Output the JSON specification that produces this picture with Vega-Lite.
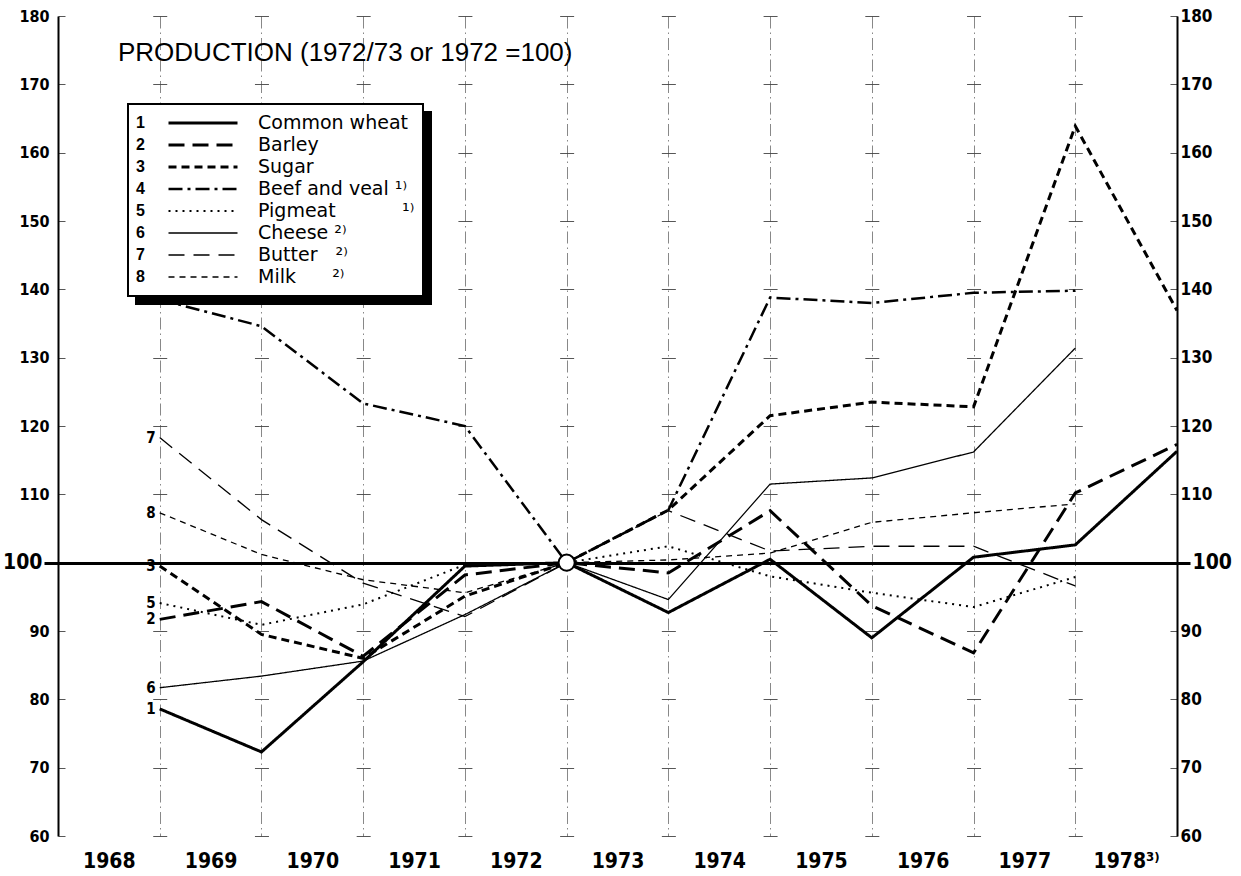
{
  "$schema": "https://vega.github.io/schema/vega-lite/v6.json",
  "autosize": {"type": "none"},
  "padding": {"left": 58, "top": 16, "right": 64, "bottom": 40},
  "width": 1119,
  "height": 820,
  "background": "white",
  "config": {
    "view": {"stroke": null},
    "legend": {"strokeWidth": 2}
  },
  "title": {
    "text": "PRODUCTION (1972/73 or 1972 =100)",
    "anchor": "start",
    "frame": "group",
    "orient": "top",
    "offset": 0,
    "dx": 60,
    "dy": 80,
    "baseline": "alphabetic",
    "font": "Liberation Sans",
    "fontSize": 26,
    "fontWeight": "normal",
    "color": "black"
  },
  "data": {
    "values": [
      {"series": "Common wheat", "num": "1", "year": 1968.5, "value": 78.6},
      {"series": "Common wheat", "num": "1", "year": 1969.5, "value": 72.3},
      {"series": "Common wheat", "num": "1", "year": 1970.5, "value": 85.5},
      {"series": "Common wheat", "num": "1", "year": 1971.5, "value": 99.5},
      {"series": "Common wheat", "num": "1", "year": 1972.5, "value": 100},
      {"series": "Common wheat", "num": "1", "year": 1973.5, "value": 92.7},
      {"series": "Common wheat", "num": "1", "year": 1974.5, "value": 100.5},
      {"series": "Common wheat", "num": "1", "year": 1975.5, "value": 89.0},
      {"series": "Common wheat", "num": "1", "year": 1976.5, "value": 100.8},
      {"series": "Common wheat", "num": "1", "year": 1977.5, "value": 102.6},
      {"series": "Common wheat", "num": "1", "year": 1978.5, "value": 116.3},
      {"series": "Barley", "num": "2", "year": 1968.5, "value": 91.7},
      {"series": "Barley", "num": "2", "year": 1969.5, "value": 94.3},
      {"series": "Barley", "num": "2", "year": 1970.5, "value": 86.3},
      {"series": "Barley", "num": "2", "year": 1971.5, "value": 98.2},
      {"series": "Barley", "num": "2", "year": 1972.5, "value": 100},
      {"series": "Barley", "num": "2", "year": 1973.5, "value": 98.5},
      {"series": "Barley", "num": "2", "year": 1974.5, "value": 107.6},
      {"series": "Barley", "num": "2", "year": 1975.5, "value": 93.7},
      {"series": "Barley", "num": "2", "year": 1976.5, "value": 86.8},
      {"series": "Barley", "num": "2", "year": 1977.5, "value": 110.2},
      {"series": "Barley", "num": "2", "year": 1978.5, "value": 117.3},
      {"series": "Sugar", "num": "3", "year": 1968.5, "value": 99.5},
      {"series": "Sugar", "num": "3", "year": 1969.5, "value": 89.5},
      {"series": "Sugar", "num": "3", "year": 1970.5, "value": 86.0},
      {"series": "Sugar", "num": "3", "year": 1971.5, "value": 95.1},
      {"series": "Sugar", "num": "3", "year": 1972.5, "value": 100},
      {"series": "Sugar", "num": "3", "year": 1973.5, "value": 107.7},
      {"series": "Sugar", "num": "3", "year": 1974.5, "value": 121.5},
      {"series": "Sugar", "num": "3", "year": 1975.5, "value": 123.5},
      {"series": "Sugar", "num": "3", "year": 1976.5, "value": 122.8},
      {"series": "Sugar", "num": "3", "year": 1977.5, "value": 163.9},
      {"series": "Sugar", "num": "3", "year": 1978.5, "value": 136.9},
      {"series": "Beef and veal", "num": "4", "year": 1968.5, "value": 138.5},
      {"series": "Beef and veal", "num": "4", "year": 1969.5, "value": 134.6},
      {"series": "Beef and veal", "num": "4", "year": 1970.5, "value": 123.3},
      {"series": "Beef and veal", "num": "4", "year": 1971.5, "value": 120.0},
      {"series": "Beef and veal", "num": "4", "year": 1972.5, "value": 100},
      {"series": "Beef and veal", "num": "4", "year": 1973.5, "value": 107.7},
      {"series": "Beef and veal", "num": "4", "year": 1974.5, "value": 138.8},
      {"series": "Beef and veal", "num": "4", "year": 1975.5, "value": 138.0},
      {"series": "Beef and veal", "num": "4", "year": 1976.5, "value": 139.5},
      {"series": "Beef and veal", "num": "4", "year": 1977.5, "value": 139.8},
      {"series": "Pigmeat", "num": "5", "year": 1968.5, "value": 94.1},
      {"series": "Pigmeat", "num": "5", "year": 1969.5, "value": 90.9},
      {"series": "Pigmeat", "num": "5", "year": 1970.5, "value": 93.9},
      {"series": "Pigmeat", "num": "5", "year": 1971.5, "value": 99.7},
      {"series": "Pigmeat", "num": "5", "year": 1972.5, "value": 100},
      {"series": "Pigmeat", "num": "5", "year": 1973.5, "value": 102.4},
      {"series": "Pigmeat", "num": "5", "year": 1974.5, "value": 98.0},
      {"series": "Pigmeat", "num": "5", "year": 1975.5, "value": 95.6},
      {"series": "Pigmeat", "num": "5", "year": 1976.5, "value": 93.5},
      {"series": "Pigmeat", "num": "5", "year": 1977.5, "value": 97.9},
      {"series": "Cheese", "num": "6", "year": 1968.5, "value": 81.7},
      {"series": "Cheese", "num": "6", "year": 1969.5, "value": 83.4},
      {"series": "Cheese", "num": "6", "year": 1970.5, "value": 85.6},
      {"series": "Cheese", "num": "6", "year": 1971.5, "value": 92.4},
      {"series": "Cheese", "num": "6", "year": 1972.5, "value": 100},
      {"series": "Cheese", "num": "6", "year": 1973.5, "value": 94.6},
      {"series": "Cheese", "num": "6", "year": 1974.5, "value": 111.5},
      {"series": "Cheese", "num": "6", "year": 1975.5, "value": 112.4},
      {"series": "Cheese", "num": "6", "year": 1976.5, "value": 116.2},
      {"series": "Cheese", "num": "6", "year": 1977.5, "value": 131.4},
      {"series": "Butter", "num": "7", "year": 1968.5, "value": 118.3},
      {"series": "Butter", "num": "7", "year": 1969.5, "value": 106.3},
      {"series": "Butter", "num": "7", "year": 1970.5, "value": 97.0},
      {"series": "Butter", "num": "7", "year": 1971.5, "value": 92.1},
      {"series": "Butter", "num": "7", "year": 1972.5, "value": 100},
      {"series": "Butter", "num": "7", "year": 1973.5, "value": 107.6},
      {"series": "Butter", "num": "7", "year": 1974.5, "value": 101.7},
      {"series": "Butter", "num": "7", "year": 1975.5, "value": 102.4},
      {"series": "Butter", "num": "7", "year": 1976.5, "value": 102.4},
      {"series": "Butter", "num": "7", "year": 1977.5, "value": 96.6},
      {"series": "Milk", "num": "8", "year": 1968.5, "value": 107.3},
      {"series": "Milk", "num": "8", "year": 1969.5, "value": 101.2},
      {"series": "Milk", "num": "8", "year": 1970.5, "value": 97.5},
      {"series": "Milk", "num": "8", "year": 1971.5, "value": 95.6},
      {"series": "Milk", "num": "8", "year": 1972.5, "value": 100},
      {"series": "Milk", "num": "8", "year": 1973.5, "value": 100.4},
      {"series": "Milk", "num": "8", "year": 1974.5, "value": 101.4},
      {"series": "Milk", "num": "8", "year": 1975.5, "value": 105.9},
      {"series": "Milk", "num": "8", "year": 1976.5, "value": 107.3},
      {"series": "Milk", "num": "8", "year": 1977.5, "value": 108.6}
    ]
  },
  "encoding": {
    "x": {
      "field": "year",
      "type": "quantitative",
      "scale": {"domain": [1967.5, 1978.5], "nice": false, "zero": false},
      "axis": {
        "title": null,
        "values": [1968.5, 1969.5, 1970.5, 1971.5, 1972.5, 1973.5, 1974.5, 1975.5, 1976.5, 1977.5, 1978.5],
        "labelExpr": "datum.value > 1978 ? '1978³⁾' : '' + floor(datum.value)",
        "labelOffset": -50.86,
        "labelFlush": false,
        "labelOverlap": false,
        "labelPadding": 14,
        "labelFont": "Liberation Sans Narrow, DejaVu Sans Condensed, sans-serif",
        "labelFontWeight": "bold",
        "labelFontSize": 21,
        "labelColor": "black",
        "ticks": false,
        "domain": false,
        "grid": true,
        "gridColor": "#555555",
        "gridWidth": 0.7,
        "gridDash": [12, 4, 1.5, 4]
      }
    }
  },
  "layer": [
    {
      "mark": {"type": "line", "color": "black", "strokeCap": "butt", "strokeJoin": "miter"},
      "encoding": {
        "y": {
          "field": "value",
          "type": "quantitative",
          "scale": {"domain": [60, 180], "nice": false, "zero": false},
          "axis": {
            "orient": "left",
            "title": null,
            "values": [60, 70, 80, 90, 100, 110, 120, 130, 140, 150, 160, 170, 180],
            "domain": true,
            "domainColor": "black",
            "domainWidth": 2,
            "ticks": true,
            "tickSize": 14,
            "tickWidth": 3,
            "tickColor": "black",
            "tickOpacity": {"condition": {"test": "datum.value === 100", "value": 1}, "value": 0},
            "labelPadding": {"condition": {"test": "datum.value === 100", "value": 2}, "value": -5},
            "labelFont": "Liberation Sans Narrow, DejaVu Sans Condensed, sans-serif",
            "labelFontWeight": "bold",
            "labelFontSize": {"condition": {"test": "datum.value === 100", "value": 21}, "value": 16},
            "labelColor": "black",
            "labelFlush": false,
            "labelOverlap": false,
            "grid": true,
            "gridColor": {"condition": {"test": "datum.value === 100", "value": "black"}, "value": "#444444"},
            "gridWidth": {"condition": {"test": "datum.value === 100", "value": 3}, "value": 0.9},
            "gridDash": {"condition": {"test": "datum.value === 100", "value": []}, "value": [14, 87.727]},
            "gridDashOffset": 7
          }
        },
        "detail": {"field": "series", "type": "nominal"},
        "strokeDash": {
          "field": "series",
          "type": "nominal",
          "scale": {
            "domain": ["Common wheat", "Barley", "Sugar", "Beef and veal", "Pigmeat", "Cheese", "Butter", "Milk"],
            "range": [[1, 0], [16, 8], [8, 5], [14, 5, 3, 5], [2, 5], [1, 0], [16, 9], [6, 5]]
          },
          "legend": {
            "orient": "none",
            "legendX": 70,
            "legendY": 88,
            "zindex": 2,
            "direction": "vertical",
            "padding": 8,
            "strokeColor": "black",
            "fillColor": "white",
            "symbolType": "stroke",
            "symbolSize": 4761,
            "symbolOffset": 22,
            "symbolStrokeColor": "black",
            "clipHeight": 22,
            "rowPadding": 0,
            "labelOffset": 19,
            "labelFont": "DejaVu Sans",
            "labelFontSize": 19,
            "labelColor": "black",
            "labelLimit": 0,
            "labelExpr": "datum.label === 'Beef and veal' ? 'Beef and veal ¹⁾' : datum.label === 'Pigmeat' ? 'Pigmeat\u00a0\u00a0\u00a0\u00a0\u00a0\u00a0\u00a0\u00a0\u00a0\u00a0\u00a0¹⁾' : datum.label === 'Cheese' ? 'Cheese ²⁾' : datum.label === 'Butter' ? 'Butter\u00a0\u00a0\u00a0²⁾' : datum.label === 'Milk' ? 'Milk\u00a0\u00a0\u00a0\u00a0\u00a0\u00a0²⁾' : datum.label",
            "title": ["1", "2", "3", "4", "5", "6", "7", "8"],
            "titleOrient": "left",
            "titleAnchor": "start",
            "titleFont": "Liberation Sans",
            "titleFontWeight": "bold",
            "titleFontSize": 16,
            "titleColor": "black",
            "titleLineHeight": 22,
            "titleBaseline": "line-top",
            "titlePadding": 0
          }
        },
        "strokeWidth": {
          "field": "series",
          "type": "nominal",
          "scale": {
            "type": "ordinal",
            "domain": ["Common wheat", "Barley", "Sugar", "Beef and veal", "Pigmeat", "Cheese", "Butter", "Milk"],
            "range": [3, 3, 3, 2.5, 2, 1.3, 1.3, 1.3]
          },
          "legend": {
            "orient": "none",
            "legendX": 70,
            "legendY": 88,
            "zindex": 2,
            "direction": "vertical",
            "padding": 8,
            "strokeColor": "black",
            "fillColor": "white",
            "symbolType": "stroke",
            "symbolSize": 4761,
            "symbolOffset": 22,
            "symbolStrokeColor": "black",
            "clipHeight": 22,
            "rowPadding": 0,
            "labelOffset": 19,
            "labelFont": "DejaVu Sans",
            "labelFontSize": 19,
            "labelColor": "black",
            "labelLimit": 0,
            "labelExpr": "datum.label === 'Beef and veal' ? 'Beef and veal ¹⁾' : datum.label === 'Pigmeat' ? 'Pigmeat\u00a0\u00a0\u00a0\u00a0\u00a0\u00a0\u00a0\u00a0\u00a0\u00a0\u00a0¹⁾' : datum.label === 'Cheese' ? 'Cheese ²⁾' : datum.label === 'Butter' ? 'Butter\u00a0\u00a0\u00a0²⁾' : datum.label === 'Milk' ? 'Milk\u00a0\u00a0\u00a0\u00a0\u00a0\u00a0²⁾' : datum.label",
            "title": ["1", "2", "3", "4", "5", "6", "7", "8"],
            "titleOrient": "left",
            "titleAnchor": "start",
            "titleFont": "Liberation Sans",
            "titleFontWeight": "bold",
            "titleFontSize": 16,
            "titleColor": "black",
            "titleLineHeight": 22,
            "titleBaseline": "line-top",
            "titlePadding": 0
          }
        }
      }
    },
    {
      "transform": [{"filter": "datum.year === 1968.5"}],
      "mark": {"type": "text", "align": "right", "baseline": "middle", "dx": -4, "font": "Liberation Sans Narrow, DejaVu Sans Condensed, sans-serif", "fontWeight": "bold", "fontSize": 15},
      "encoding": {
        "y": {"field": "value", "type": "quantitative", "axis": null},
        "text": {"field": "num", "type": "nominal"},
        "color": {
          "field": "num",
          "type": "nominal",
          "scale": {"domain": ["1", "2", "3", "4", "5", "6", "7", "8"], "range": ["black", "black", "black", "black", "black", "black", "black", "black"]},
          "legend": {
            "orient": "none",
            "legendX": 78,
            "legendY": 96,
            "zindex": 1,
            "direction": "vertical",
            "padding": 8,
            "strokeColor": "black",
            "fillColor": "black",
            "symbolType": "stroke",
            "symbolSize": 77841,
            "symbolOpacity": 0,
            "symbolStrokeWidth": 0,
            "clipHeight": 22,
            "rowPadding": 0,
            "labelOffset": 0,
            "labelLimit": 0,
            "labelExpr": "''",
            "title": null
          }
        }
      }
    },
    {
      "transform": [{"filter": "datum.year === 1972.5 && datum.series === 'Common wheat'"}],
      "mark": {"type": "point", "shape": "circle", "filled": true, "fill": "white", "stroke": "black", "strokeWidth": 2, "size": 260, "opacity": 1},
      "encoding": {
        "y": {
          "field": "value",
          "type": "quantitative",
          "axis": {
            "orient": "right",
            "title": null,
            "values": [60, 70, 80, 90, 100, 110, 120, 130, 140, 150, 160, 170, 180],
            "domain": true,
            "domainColor": "black",
            "domainWidth": 2,
            "ticks": true,
            "tickSize": 13,
            "tickWidth": 3,
            "tickColor": "black",
            "tickOpacity": {"condition": {"test": "datum.value === 100", "value": 1}, "value": 0},
            "labelPadding": {"condition": {"test": "datum.value === 100", "value": 2}, "value": -10},
            "labelFont": "Liberation Sans Narrow, DejaVu Sans Condensed, sans-serif",
            "labelFontWeight": "bold",
            "labelFontSize": {"condition": {"test": "datum.value === 100", "value": 21}, "value": 17},
            "labelColor": "black",
            "labelFlush": false,
            "labelOverlap": false,
            "grid": false
          }
        }
      }
    }
  ],
  "resolve": {"axis": {"y": "independent"}}
}
